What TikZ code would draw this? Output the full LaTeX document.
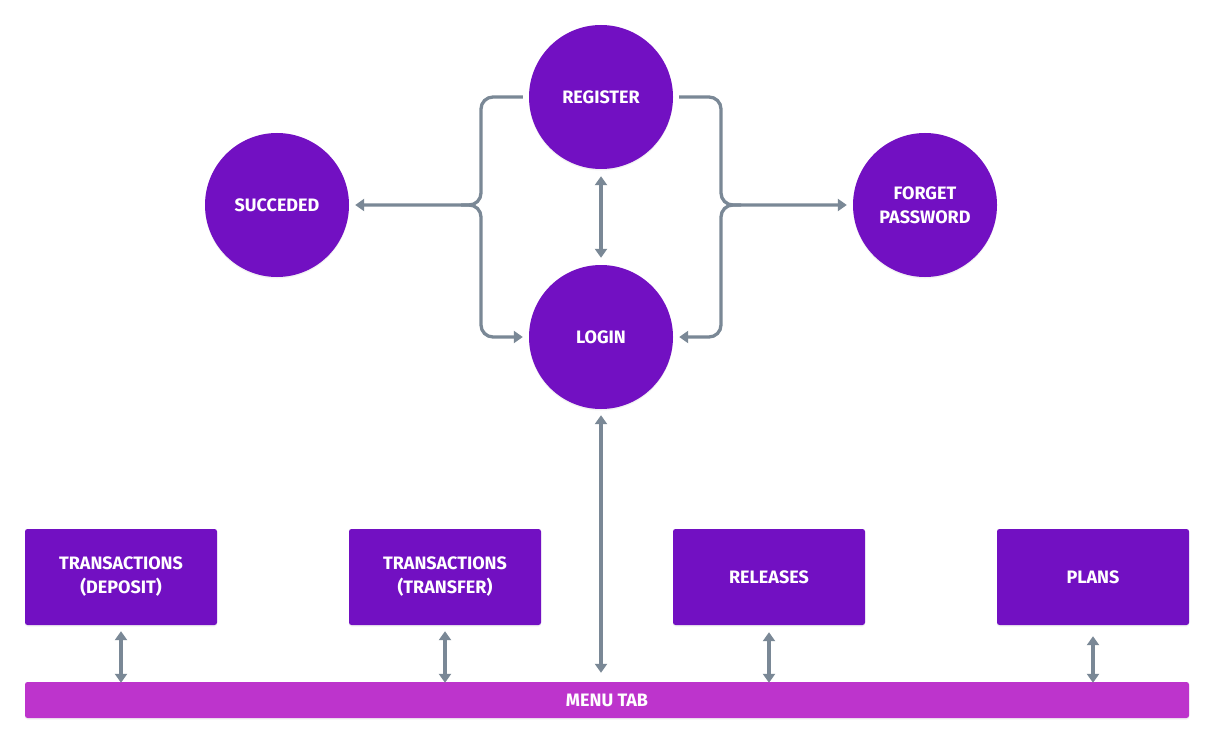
\documentclass[tikz,border=0pt]{standalone}
\usepackage{fontspec}
\setmainfont{Fira Sans}
\usetikzlibrary{arrows.meta,shadows,calc}
\definecolor{purp}{HTML}{7210C2}
\definecolor{menubar}{HTML}{BD34CC}
\definecolor{conn}{HTML}{7A8896}
\begin{document}
\begin{tikzpicture}[x=1pt,y=-1pt,
  lbl/.style={text=white, font=\bfseries\fontsize{18}{24}\selectfont, align=center},
  shad/.style={drop shadow={shadow xshift=0pt, shadow yshift=-1.5pt, opacity=0.10}},
  circ/.style={circle, fill=purp, minimum size=144pt, inner sep=0pt, lbl, shad},
  box/.style={rectangle, rounded corners=2.5pt, fill=purp, minimum width=192pt, minimum height=96pt, inner sep=0pt, lbl, shad},
  bar/.style={rectangle, rounded corners=2.5pt, fill=menubar, minimum width=1164pt, minimum height=36pt, inner sep=0pt, shad},
  tip/.tip={Triangle[width=12pt,length=9pt]},
  arr/.style={draw=conn, line width=3.3pt, -tip},
  darr/.style={draw=conn, line width=3.3pt, tip-tip}
]
\useasboundingbox (0,0) rectangle (1214,743);
\fill[white] (0,0) rectangle (1214,743);

% circles
\node[circ] (reg) at (601,97) {REGISTER};
\node[circ] (login) at (601,337) {LOGIN};
\node[circ] (succ) at (277,205) {SUCCEDED};
\node[circ] (fp) at (925,205) {FORGET\\PASSWORD};

% boxes
\node[box] (dep) at (121,577) {TRANSACTIONS\\(DEPOSIT)};
\node[box] (trf) at (445,577) {TRANSACTIONS\\(TRANSFER)};
\node[box] (rel) at (769,577) {RELEASES};
\node[box] (plans) at (1093,577) {PLANS};

% menu bar
\node[bar] (menu) at (607,700) {};
\node[lbl, inner sep=0pt] (menutxt) at (607,700) {MENU TAB};

% junction points
\coordinate (jl) at (481,205);
\coordinate (jr) at (721,205);

% left brace connector
\draw[arr, rounded corners=12pt] ([xshift=-6pt]reg.west) -| (jl) -- ([xshift=6pt]succ.east);
\draw[arr, rounded corners=12pt] ($(jl)+(-20,0)$) -- (jl) |- ([xshift=-6pt]login.west);

% right brace connector
\draw[arr, rounded corners=12pt] ([xshift=6pt]reg.east) -| (jr) -- ([xshift=-6pt]fp.west);
\draw[arr, rounded corners=12pt] ($(jr)+(20,0)$) -- (jr) |- ([xshift=6pt]login.east);

% register <-> login
\draw[darr] ([yshift=-7pt]reg.south) -- ([yshift=7pt]login.north);

% login <-> menu
\draw[darr] ([yshift=-6pt]login.south) -- ([yshift=9pt]login.south |- menu.north);

% boxes <-> menu
\draw[darr] ([yshift=-6pt]dep.south) -- ([yshift=-1pt]dep.south |- menu.north);
\draw[darr] ([yshift=-6pt]trf.south) -- ([yshift=-1pt]trf.south |- menu.north);
\draw[darr] ([yshift=-7pt]rel.south) -- ([yshift=-1pt]rel.south |- menu.north);
\draw[darr] ([yshift=-11pt]plans.south) -- ([yshift=-1pt]plans.south |- menu.north);
\end{tikzpicture}
\end{document}
